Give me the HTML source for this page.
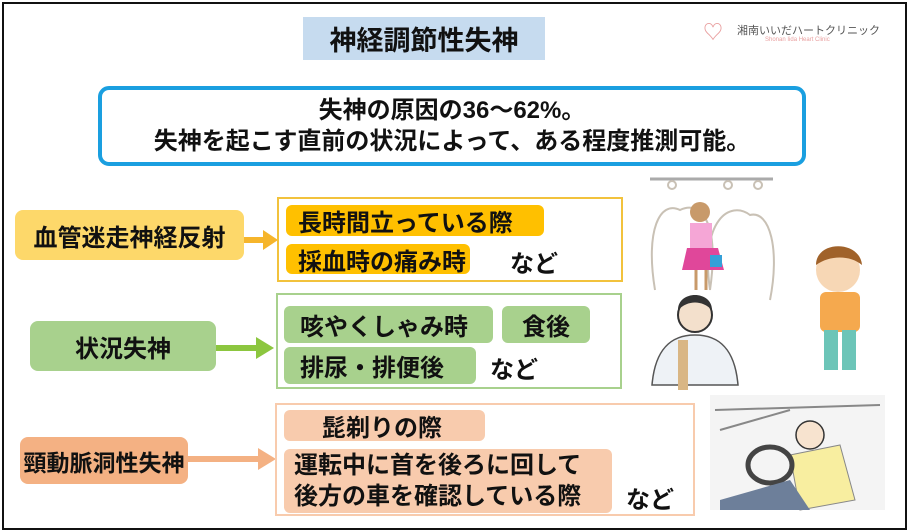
<!DOCTYPE html>
<html><head><meta charset="utf-8"><style>
body{margin:0;width:909px;height:532px;overflow:hidden;background:#fff;font-family:"Liberation Sans","Noto Sans CJK JP",sans-serif;font-weight:bold;color:#111}
.a{position:absolute;box-sizing:border-box}
.c{display:flex;align-items:center;justify-content:center}
.p{position:absolute;box-sizing:border-box;border-radius:6px;display:flex;align-items:center;padding-left:12px;font-size:24px;white-space:nowrap}
</style></head><body>
<div class="a" style="left:2px;top:2px;width:905px;height:528px;border:2px solid #111"></div>
<div class="a c" style="left:303px;top:17px;width:242px;height:43px;background:#c6dbef;font-size:27px">神経調節性失神</div>
<div class="a" style="left:703px;top:16px;width:30px;height:26px;color:#e9a0a0;font-size:20px">♡</div>
<div class="a" style="left:737px;top:22px;font-size:11px;color:#555;font-weight:normal">湘南いいだハートクリニック</div>
<div class="a" style="left:765px;top:37px;font-size:6px;color:#e9a0a0;font-weight:normal">Shonan Iida Heart Clinic</div>
<div class="a" style="left:98px;top:86px;width:708px;height:80px;border:4px solid #1a9fe0;border-radius:11px;font-size:24px;text-align:center;line-height:31px;padding-top:5px;white-space:nowrap">失神の原因の36～62%。<br>失神を起こす直前の状況によって、ある程度推測可能。</div>

<div class="a c" style="left:15px;top:210px;width:229px;height:50px;background:#fdd86a;border-radius:8px;font-size:24px">血管迷走神経反射</div>
<svg class="a" style="left:244px;top:228px" width="36" height="24"><rect x="0" y="9" width="20" height="6" fill="#f6b52b"/><polygon points="19,2 34,12 19,22" fill="#f6b52b"/></svg>
<div class="a" style="left:277px;top:197px;width:346px;height:85px;border:2px solid #f2c23c"></div>
<div class="p" style="left:286px;top:205px;width:258px;height:31px;background:#ffc000">長時間立っている際</div>
<div class="p" style="left:286px;top:244px;width:184px;height:30px;background:#ffc000">採血時の痛み時</div>
<div class="a" style="left:510px;top:244px;font-size:24px">など</div>

<div class="a c" style="left:30px;top:321px;width:186px;height:50px;background:#a8d18d;border-radius:8px;font-size:24px">状況失神</div>
<svg class="a" style="left:216px;top:336px" width="60" height="24"><rect x="0" y="9" width="42" height="6" fill="#8cc63f"/><polygon points="40,1 58,12 40,23" fill="#8cc63f"/></svg>
<div class="a" style="left:276px;top:293px;width:346px;height:96px;border:2px solid #a8d18d"></div>
<div class="p" style="left:284px;top:306px;width:209px;height:37px;background:#a8d18d;padding-left:16px">咳やくしゃみ時</div>
<div class="p" style="left:502px;top:306px;width:88px;height:37px;background:#a8d18d;padding-left:20px">食後</div>
<div class="p" style="left:284px;top:347px;width:192px;height:37px;background:#a8d18d;padding-left:16px">排尿・排便後</div>
<div class="a" style="left:490px;top:350px;font-size:24px">など</div>

<div class="a c" style="left:20px;top:437px;width:168px;height:47px;background:#f4b183;border-radius:8px;font-size:23px">頸動脈洞性失神</div>
<svg class="a" style="left:188px;top:447px" width="90" height="24"><rect x="0" y="9" width="72" height="6" fill="#f4b183"/><polygon points="70,1 88,12 70,23" fill="#f4b183"/></svg>
<div class="a" style="left:275px;top:403px;width:420px;height:113px;border:2px solid #f8cbad"></div>
<div class="p" style="left:284px;top:410px;width:201px;height:31px;background:#f8cbad;padding-left:38px">髭剃りの際</div>
<div class="p" style="left:284px;top:449px;width:328px;height:64px;background:#f8cbad;line-height:31px;padding-left:10px;font-size:24px">運転中に首を後ろに回して<br>後方の車を確認している際</div>
<div class="a" style="left:626px;top:480px;font-size:24px">など</div>

<svg class="a" style="left:640px;top:170px" width="260" height="350">
<line x1="10" y1="9" x2="133" y2="9" stroke="#aaa" stroke-width="3"/>
<g fill="none" stroke="#c9c1b5" stroke-width="2">
<path d="M15,120 C5,60 20,30 40,40 C60,30 80,50 70,120"/><path d="M70,120 C60,50 90,30 110,45 C130,40 140,80 130,130"/>
<circle cx="32" cy="15" r="4"/><circle cx="88" cy="15" r="4"/><circle cx="118" cy="15" r="4"/>
</g>
<circle cx="60" cy="42" r="10" fill="#c89a6a"/><rect x="50" y="53" width="22" height="25" fill="#f5a6d6"/><polygon points="47,78 78,78 84,100 42,100" fill="#e0479a"/><rect x="70" y="85" width="12" height="12" fill="#35a0d8"/>
<line x1="56" y1="100" x2="56" y2="120" stroke="#c89a6a" stroke-width="3"/><line x1="66" y1="100" x2="66" y2="120" stroke="#c89a6a" stroke-width="3"/>
<circle cx="198" cy="100" r="22" fill="#f7d7b5"/><path d="M176,95 C176,70 220,70 222,95 C210,85 190,85 176,95Z" fill="#a0622a"/>
<rect x="180" y="122" width="40" height="40" rx="6" fill="#f5a94e"/><rect x="184" y="160" width="14" height="40" fill="#6cc5b8"/><rect x="202" y="160" width="14" height="40" fill="#6cc5b8"/>
<circle cx="55" cy="145" r="17" fill="#f3e0cc" stroke="#333" stroke-width="2"/><path d="M38,140 C38,120 72,120 72,140 C62,130 48,130 38,140Z" fill="#333"/>
<path d="M12,215 C15,180 30,165 55,165 C80,165 95,180 98,215Z" fill="#eef2f6" stroke="#555" stroke-width="1.5"/><rect x="38" y="170" width="10" height="50" fill="#d9b684"/>
<rect x="70" y="225" width="175" height="115" fill="#f4f4f4"/>
<path d="M75,240 L240,235 M80,260 L150,240" stroke="#888" stroke-width="2" fill="none"/>
<circle cx="170" cy="265" r="14" fill="#f7e3cf" stroke="#333" stroke-width="1.5"/><path d="M150,285 L200,275 L215,330 L160,340Z" fill="#f8eea0" stroke="#888"/>
<ellipse cx="130" cy="295" rx="22" ry="18" fill="none" stroke="#444" stroke-width="5"/><path d="M80,330 L150,310 L170,340 L80,340Z" fill="#6d7f9a"/>
</svg>
</body></html>
